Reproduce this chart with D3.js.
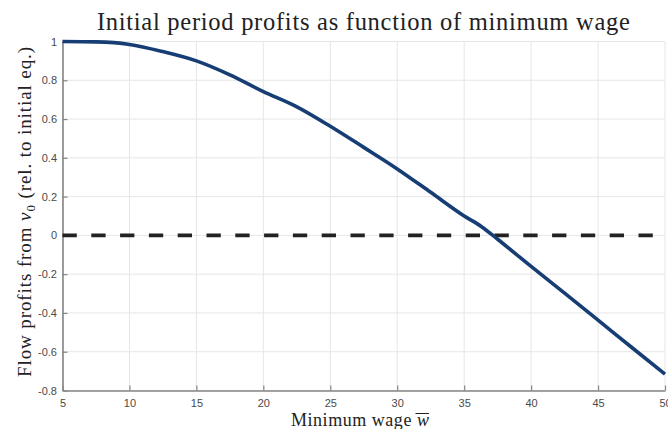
<!DOCTYPE html>
<html>
<head>
<meta charset="utf-8">
<script src="https://cdn.jsdelivr.net/npm/d3@7"></script>
<style>
  html, body { margin: 0; padding: 0; background: #fff; }
  svg { display: block; }
</style>
</head>
<body>
<svg id="chart" width="668" height="429"></svg>
<script>
// Minimum wage grid and the initial-period flow profits (relative to initial equilibrium)
const wage = [5, 7.5, 10, 12.5, 15, 17.5, 20, 22.4, 25, 27.5, 30, 32.5, 35, 36.3, 37.5, 40, 42.5, 45, 47.5, 50];
const profits = [1.0, 0.998, 0.985, 0.948, 0.90, 0.828, 0.742, 0.667, 0.563, 0.454, 0.343, 0.222, 0.10, 0.045, -0.02, -0.16, -0.298, -0.437, -0.577, -0.716];

// Reference level (zero profits)
const refWage = [5, 50];
const refLevel = [0, 0];

const xTicks = [5, 10, 15, 20, 25, 30, 35, 40, 45, 50];
const yTicks = [-0.8, -0.6, -0.4, -0.2, 0, 0.2, 0.4, 0.6, 0.8, 1];

const titleText = "Initial period profits as function of minimum wage";

const svg = d3.select("#chart");
const margin = { left: 62.5, right: 3, top: 41.5, bottom: 38.5 };
const W = 668, H = 429;

const x = d3.scaleLinear().domain([5, 50]).range([margin.left, W - margin.right]);
const y = d3.scaleLinear().domain([-0.8, 1]).range([H - margin.bottom, margin.top]);

// grid
const grid = svg.append("g").attr("stroke", "#e6e6e6").attr("stroke-width", 1);
grid.selectAll("line.v").data(xTicks).join("line")
  .attr("x1", d => x(d)).attr("x2", d => x(d))
  .attr("y1", y(-0.8)).attr("y2", y(1));
grid.selectAll("line.h").data(yTicks).join("line")
  .attr("x1", x(5)).attr("x2", x(50))
  .attr("y1", d => y(d)).attr("y2", d => y(d));

// axes (plain hyphen for negatives)
const fmtY = d => d === 0 ? "0" : String(+d.toFixed(1));
const tickFont = "'Liberation Sans', Arial, Helvetica, sans-serif";
const xAxis = svg.append("g")
  .attr("transform", `translate(0,${y(-0.8)})`)
  .call(d3.axisBottom(x).tickValues(xTicks).tickSizeInner(-5).tickSizeOuter(0).tickPadding(9).tickFormat(d => String(d)));
const yAxis = svg.append("g")
  .attr("transform", `translate(${x(5)},0)`)
  .call(d3.axisLeft(y).tickValues(yTicks).tickSizeInner(-5).tickSizeOuter(0).tickPadding(5.5).tickFormat(fmtY));

[xAxis, yAxis].forEach(a => {
  a.select(".domain").attr("stroke", "#858585").attr("stroke-width", 1.6);
  a.selectAll(".tick line").attr("stroke", "#858585").attr("stroke-width", 1.2);
  a.selectAll(".tick text").attr("fill", "#4a4a4a").style("font-family", tickFont).style("font-size", "11px");
});

// zero reference line
const line = d3.line().x(d => x(d[0])).y(d => y(d[1]));
svg.append("path")
  .datum(refWage.map((w, i) => [w, refLevel[i]]))
  .attr("d", line)
  .attr("fill", "none")
  .attr("stroke", "#222")
  .attr("stroke-width", 3.6)
  .attr("stroke-dasharray", "14.3,14.5");

// profits curve
svg.append("path")
  .datum(wage.map((w, i) => [w, profits[i]]))
  .attr("d", line.curve(d3.curveMonotoneX))
  .attr("fill", "none")
  .attr("stroke", "#173e74")
  .attr("stroke-width", 3.6)
  .attr("stroke-linejoin", "round");

// spread a label's letters so its advance reaches the wanted length
function spreadTo(sel, target) {
  const n = sel.text().length;
  const len = sel.node().getComputedTextLength();
  sel.style("letter-spacing", ((target - len) / Math.max(n - 1, 1)) + "px");
}

// labels
const serif = "'Liberation Serif', 'Times New Roman', serif";
const midX = (x(5) + x(50)) / 2;

const title = svg.append("text")
  .attr("x", midX).attr("y", 30)
  .attr("text-anchor", "middle")
  .style("font-family", serif).style("font-size", "24.5px").attr("fill", "#222")
  .text(titleText);
spreadTo(title, 533);

const xl = svg.append("text")
  .attr("x", 291).attr("y", 426)
  .style("font-family", serif).style("font-size", "18px").attr("fill", "#222");
xl.append("tspan").text("Minimum wage ");
xl.append("tspan").style("font-style", "italic").text("w");
spreadTo(xl, 138);

// bar over the w
const xlBox = xl.node().getBBox();
const wLen = xl.select("tspan:last-child").node().getComputedTextLength();
svg.append("line")
  .attr("x1", xlBox.x + xlBox.width - wLen - 1.5).attr("x2", xlBox.x + xlBox.width - 0.5)
  .attr("y1", 413.5).attr("y2", 413.5)
  .attr("stroke", "#222").attr("stroke-width", 1);

const yl = svg.append("text")
  .attr("transform", "translate(31,377) rotate(-90)")
  .style("font-family", serif).style("font-size", "19px").attr("fill", "#222");
yl.append("tspan").text("Flow profits from ");
yl.append("tspan").style("font-style", "italic").text("v");
yl.append("tspan").attr("dy", 4).style("font-size", "13px").text("0");
yl.append("tspan").attr("dy", -4).text(" (rel. to initial eq.)");
spreadTo(yl, 330);
</script>
</body>
</html>
